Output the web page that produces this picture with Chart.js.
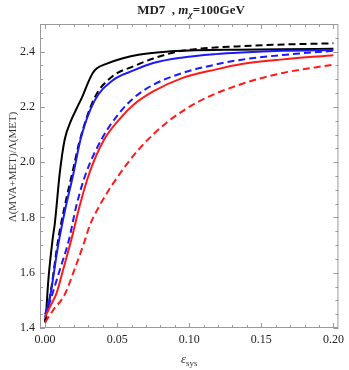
<!DOCTYPE html>
<html>
<head>
<meta charset="utf-8">
<script src="https://cdn.jsdelivr.net/npm/chart.js@4/dist/chart.umd.min.js"></script>
<style>
html,body{margin:0;padding:0;background:#fff;}
canvas{display:block;}
</style>
</head>
<body>
<canvas id="c" width="349" height="370"></canvas>
<script>
// ---- data ----
const xTicks = [0, 0.05, 0.10, 0.15, 0.20];
const yTicks = [1.4, 1.6, 1.8, 2.0, 2.2, 2.4];

const blackSolidX = [0, 0.0007, 0.0023, 0.0052, 0.0068, 0.0102, 0.0136, 0.018, 0.022, 0.0261, 0.030, 0.033, 0.036, 0.042, 0.0534, 0.0648, 0.0841, 0.100, 0.133, 0.165, 0.200];
const blackSolidY = [1.425, 1.453, 1.574, 1.719, 1.779, 1.960, 2.081, 2.150, 2.195, 2.240, 2.290, 2.322, 2.340, 2.355, 2.375, 2.389, 2.400, 2.404, 2.407, 2.409, 2.410];

const blackDashX = [0, 0.0014, 0.0045, 0.0091, 0.0136, 0.0193, 0.0239, 0.0341, 0.0466, 0.0614, 0.075, 0.0909, 0.110, 0.133, 0.160, 0.200];
const blackDashY = [1.420, 1.453, 1.550, 1.719, 1.840, 1.970, 2.075, 2.230, 2.310, 2.347, 2.375, 2.399, 2.412, 2.419, 2.425, 2.430];

const blueSolidX = [0, 0.003, 0.0091, 0.0136, 0.0193, 0.025, 0.0341, 0.0466, 0.0614, 0.075, 0.0955, 0.118, 0.1364, 0.165, 0.200];
const blueSolidY = [1.450, 1.500, 1.700, 1.820, 1.950, 2.090, 2.220, 2.295, 2.332, 2.359, 2.379, 2.391, 2.397, 2.403, 2.406];

const blueDashX = [0, 0.0045, 0.0102, 0.0166, 0.0216, 0.0284, 0.040, 0.0511, 0.0614, 0.075, 0.0955, 0.118, 0.1364, 0.165, 0.200];
const blueDashY = [1.440, 1.513, 1.610, 1.719, 1.840, 1.960, 2.090, 2.175, 2.232, 2.280, 2.323, 2.353, 2.371, 2.388, 2.403];

const redSolidX = [0, 0.0034, 0.008, 0.0125, 0.0182, 0.0239, 0.0307, 0.0409, 0.0534, 0.0614, 0.075, 0.0955, 0.118, 0.1364, 0.165, 0.200];
const redSolidY = [1.440, 1.477, 1.526, 1.610, 1.719, 1.840, 1.960, 2.081, 2.166, 2.208, 2.256, 2.305, 2.335, 2.355, 2.372, 2.387];

const redDashX = [0, 0.0057, 0.0135, 0.021, 0.0273, 0.0307, 0.0375, 0.0489, 0.0648, 0.0841, 0.1068, 0.1364, 0.165, 0.200];
const redDashY = [1.420, 1.465, 1.520, 1.620, 1.712, 1.767, 1.840, 1.936, 2.045, 2.142, 2.220, 2.283, 2.323, 2.353];

function pts(xs, ys){ return xs.map((x,i)=>({x:x, y:ys[i]})); }

function ds(xs, ys, color, dashed){
  return {
    data: pts(xs, ys),
    borderColor: color,
    borderWidth: 2,
    borderDash: dashed ? [7,4] : [],
    pointRadius: 0,
    fill: false,
    cubicInterpolationMode: 'monotone',
    tension: 0.4
  };
}

const SERIF = '"Liberation Serif", "Times New Roman", serif';

const framePlugin = {
  id: 'frame',
  afterDatasetsDraw(chart){
    const ctx = chart.ctx, a = chart.chartArea;
    const xs = chart.scales.x, ys = chart.scales.y;
    ctx.save();
    ctx.strokeStyle = '#9a9a9a';
    ctx.lineWidth = 1;
    ctx.strokeRect(a.left+0.5, a.top+0.5, a.right-a.left-1, a.bottom-a.top-1);
    ctx.beginPath();
    // x ticks (major 0.05, minor 0.01)
    for(let i=0;i<=20;i++){
      const v = i*0.01;
      const p = Math.round(xs.getPixelForValue(v))+0.5;
      const len = (i%5===0)?5:3;
      ctx.moveTo(p, a.bottom); ctx.lineTo(p, a.bottom-len);
      ctx.moveTo(p, a.top); ctx.lineTo(p, a.top+len);
    }
    // y ticks (major 0.2, minor 0.05)
    for(let i=0;i<=21;i++){
      const v = 1.4 + i*0.05;
      if (v > ys.max) break;
      const p = Math.round(ys.getPixelForValue(v))+0.5;
      const len = (i%4===0)?5:3;
      ctx.moveTo(a.left, p); ctx.lineTo(a.left+len, p);
      ctx.moveTo(a.right, p); ctx.lineTo(a.right-len, p);
    }
    ctx.stroke();
    ctx.restore();
  },
  afterDraw(chart){
    const ctx = chart.ctx, a = chart.chartArea;
    ctx.save();
    ctx.fillStyle = '#222';
    ctx.textBaseline = 'alphabetic';
    // title: MD7  , m_χ=100GeV
    const parts = [
      {t:'MD7  , ', f:'bold 13px '+SERIF, dy:0},
      {t:'m', f:'italic bold 13px '+SERIF, dy:0},
      {t:'χ', f:'italic bold 9px '+SERIF, dy:3},
      {t:'=100GeV', f:'bold 13px '+SERIF, dy:0}
    ];
    let w = 0;
    parts.forEach(p=>{ ctx.font = p.f; p.w = ctx.measureText(p.t).width; w += p.w; });
    let x = 191 - w/2;
    parts.forEach(p=>{ ctx.font = p.f; ctx.fillText(p.t, x, 13.5 + p.dy); x += p.w; });

    // x label: ε_sys
    ctx.fillStyle = '#333';
    const xp = [
      {t:'ε', f:'italic 13px '+SERIF, dy:0},
      {t:'sys', f:'9px '+SERIF, dy:3}
    ];
    w = 0;
    xp.forEach(p=>{ ctx.font = p.f; p.w = ctx.measureText(p.t).width; w += p.w; });
    x = (a.left+a.right)/2 - w/2;
    xp.forEach(p=>{ ctx.font = p.f; ctx.fillText(p.t, x, 363 + p.dy); x += p.w; });

    // y label
    ctx.translate(16, 167);
    ctx.rotate(-Math.PI/2);
    ctx.font = '11px '+SERIF;
    ctx.textAlign = 'center';
    ctx.fillText('Λ(MVA+MET)/Λ(MET)', 0, 0);
    ctx.restore();
  }
};

new Chart(document.getElementById('c'), {
  type: 'line',
  data: {
    datasets: [
      ds(redDashX, redDashY, '#ff1a1a', true),
      ds(redSolidX, redSolidY, '#ff1a1a', false),
      ds(blueDashX, blueDashY, '#1a1aff', true),
      ds(blueSolidX, blueSolidY, '#1a1aff', false),
      ds(blackDashX, blackDashY, '#000000', true),
      ds(blackSolidX, blackSolidY, '#000000', false)
    ]
  },
  options: {
    responsive: false,
    devicePixelRatio: 1,
    animation: false,
    layout: { padding: { top: 24, right: 6, left: 0, bottom: 0 } },
    plugins: { legend: { display: false }, tooltip: { enabled: false }, title: { display: false } },
    scales: {
      x: {
        type: 'linear',
        min: -0.0035,
        max: 0.2035,
        grid: { display: false, drawTicks: false },
        border: { display: false },
        afterBuildTicks(s){ s.ticks = xTicks.map(v=>({value:v})); },
        afterFit(s){ s.height = 42; },
        ticks: {
          padding: 5,
          maxRotation: 0,
          autoSkip: false,
          color: '#222',
          font: { family: SERIF, size: 12 },
          callback: v => Number(v).toFixed(2)
        }
      },
      y: {
        type: 'linear',
        min: 1.4,
        max: 2.5,
        grid: { display: false, drawTicks: false },
        border: { display: false },
        afterBuildTicks(s){ s.ticks = yTicks.map(v=>({value:v})); },
        afterFit(s){ s.width = 40; },
        ticks: {
          padding: 5,
          autoSkip: false,
          color: '#222',
          font: { family: SERIF, size: 12 },
          callback: v => Number(v).toFixed(1)
        }
      }
    }
  },
  plugins: [framePlugin]
});
</script>
</body>
</html>
